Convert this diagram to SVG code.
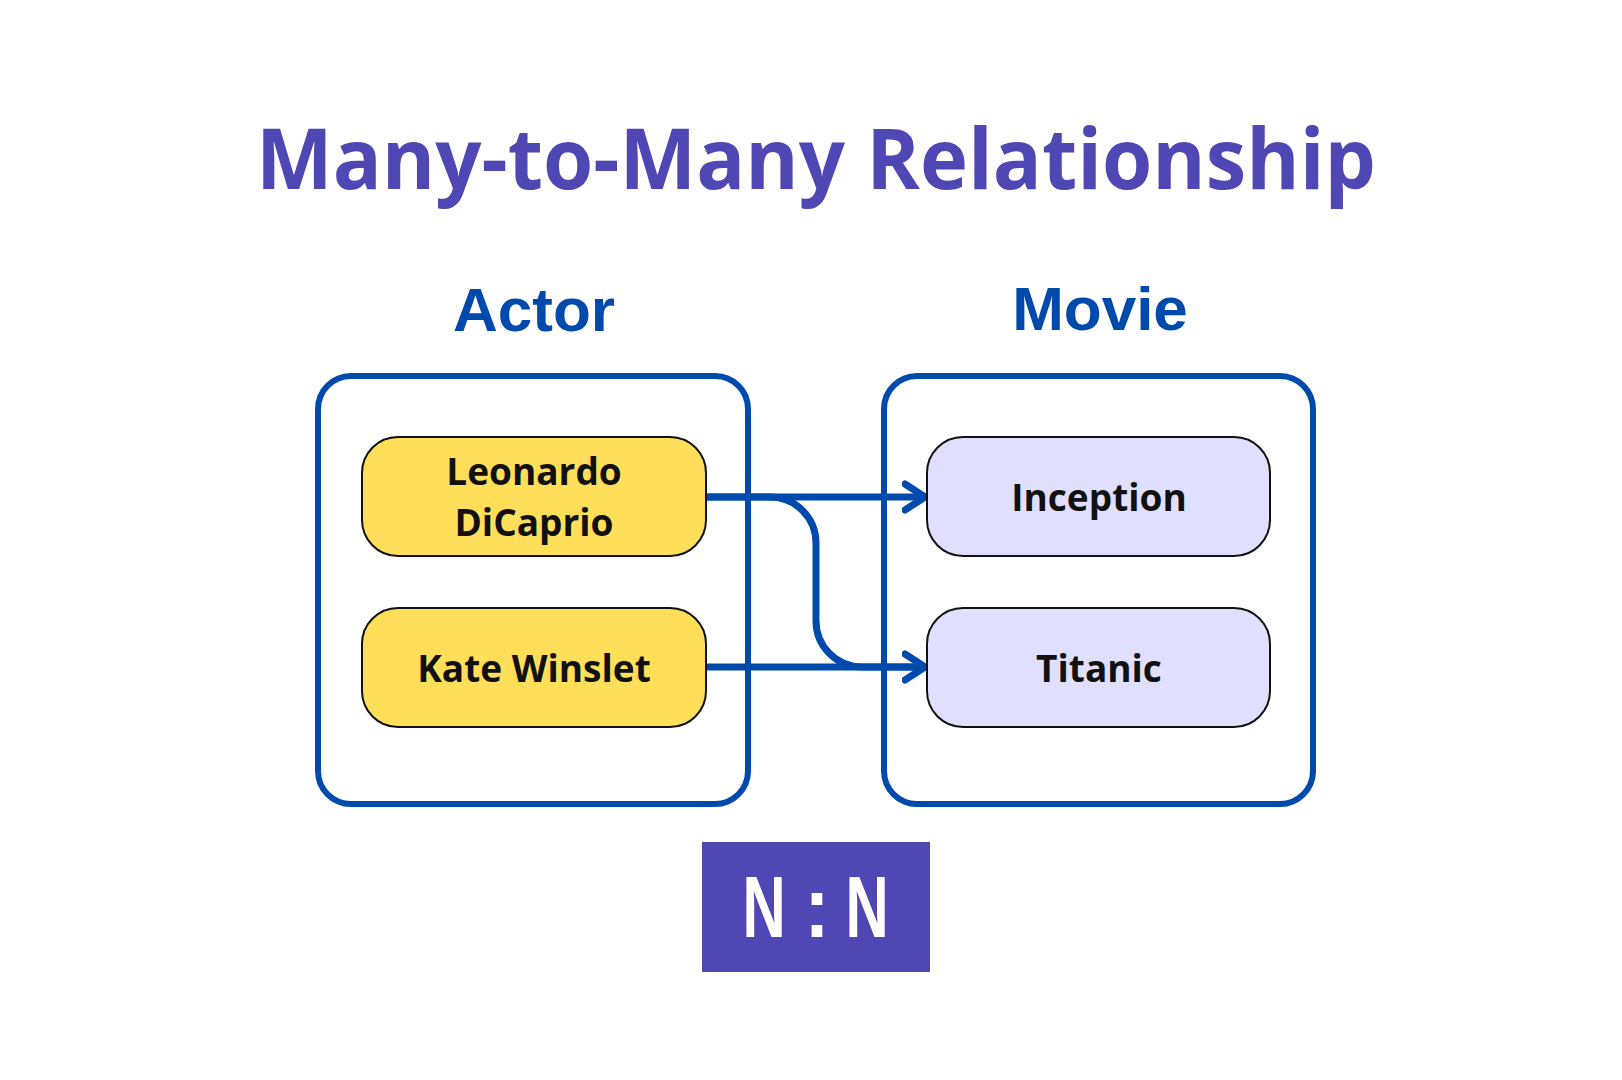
<svg xmlns="http://www.w3.org/2000/svg" width="1622" height="1080" viewBox="0 0 1622 1080">
  <defs>
    <style>
      .title { font-family: "Open Sans", "Noto Sans", "Liberation Sans", sans-serif; font-weight: 700; font-size: 84px; fill: #4F47B4; }
      .head { font-family: "Liberation Sans", Arial, sans-serif; font-weight: 700; font-size: 62px; fill: #004AAD; }
      .outer { fill: #FFFFFF; stroke: #004AAD; stroke-width: 6; }
      .actor { fill: #FFDE59; stroke: #111111; stroke-width: 2; }
      .movie { fill: #E0DFFD; stroke: #111111; stroke-width: 2; }
      .label { font-family: "Open Sans", "Noto Sans", "Liberation Sans", sans-serif; font-weight: 700; font-size: 37px; fill: #111111; text-anchor: middle; }
      .conn { fill: none; stroke: #004AAD; stroke-width: 7; stroke-linecap: round; stroke-linejoin: round; }
      .nn { font-family: "Liberation Sans", Arial, sans-serif; font-weight: 700; font-size: 88px; fill: #FFFFFF; text-anchor: middle; }
    </style>
    <marker id="arrow" viewBox="0 0 30 34" markerWidth="30" markerHeight="34" refX="23" refY="17" markerUnits="userSpaceOnUse" orient="auto">
      <path d="M3,4 L23,17 L3,30" fill="none" stroke="#004AAD" stroke-width="7" stroke-linecap="round" stroke-linejoin="round"/>
    </marker>
  </defs>
  <rect width="1622" height="1080" fill="#FFFFFF"/>

  <text class="title" x="816" y="189" text-anchor="middle" textLength="1120" lengthAdjust="spacingAndGlyphs">Many-to-Many Relationship</text>

  <g id="actor-group">
    <text class="head" x="534" y="331" text-anchor="middle">Actor</text>
    <rect class="outer" x="318" y="376" width="430" height="428" rx="33"/>
  </g>
  <g id="movie-group">
    <text class="head" x="1100" y="330" text-anchor="middle">Movie</text>
    <rect class="outer" x="884" y="376" width="429" height="428" rx="33"/>
  </g>

  <g id="connectors">
    <path class="conn" d="M706,497 H770 A46,46 0 0 1 816,543 V621 A46,46 0 0 0 862,667 H925" />
    <path class="conn" d="M706,497 H925" marker-end="url(#arrow)"/>
    <path class="conn" d="M706,667 H925" marker-end="url(#arrow)"/>
  </g>

  <g id="leonardo">
    <rect class="actor" x="362" y="437" width="344" height="119" rx="36"/>
    <text class="label" x="534" y="485">Leonardo</text>
    <text class="label" x="534" y="536">DiCaprio</text>
  </g>
  <g id="kate">
    <rect class="actor" x="362" y="608" width="344" height="119" rx="36"/>
    <text class="label" x="534" y="682">Kate Winslet</text>
  </g>
  <g id="inception">
    <rect class="movie" x="927" y="437" width="343" height="119" rx="36"/>
    <text class="label" x="1099" y="511">Inception</text>
  </g>
  <g id="titanic">
    <rect class="movie" x="927" y="608" width="343" height="119" rx="36"/>
    <text class="label" x="1099" y="682">Titanic</text>
  </g>

  <g id="nn-badge">
    <rect x="702" y="842" width="228" height="130" fill="#4F47B4"/>
    <text class="nn" transform="translate(764,937) scale(0.68,1)">N</text>
    <text class="nn" transform="translate(817,937) scale(0.85,1)">:</text>
    <text class="nn" transform="translate(867,937) scale(0.68,1)">N</text>
  </g>
</svg>
